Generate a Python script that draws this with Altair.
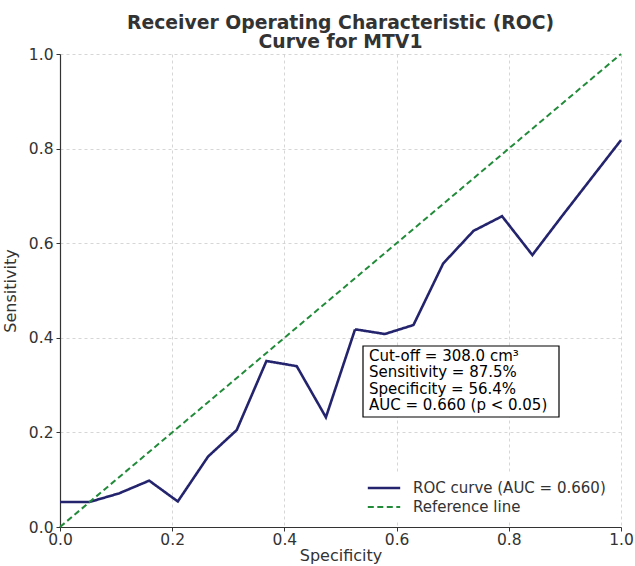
import altair as alt
import pandas as pd

# ROC curve values
roc_spec = [0.0, 0.053, 0.105, 0.159, 0.21, 0.264, 0.315, 0.368, 0.422, 0.474,
            0.526, 0.579, 0.630, 0.683, 0.737, 0.788, 0.842, 0.894, 1.0]
roc_sens = [0.053, 0.053, 0.071, 0.098, 0.054, 0.149, 0.205, 0.351, 0.340, 0.232,
            0.418, 0.408, 0.427, 0.557, 0.626, 0.657, 0.575, 0.656, 0.818]
ref_spec = [0.0, 1.0]
ref_sens = [0.0, 1.0]

roc_label = "ROC curve (AUC = 0.660)"
ref_label = "Reference line"
ticks = [0.0, 0.2, 0.4, 0.6, 0.8, 1.0]
annot_lines = ["Cut-off = 308.0 cm³", "Sensitivity = 87.5%",
               "Specificity = 56.4%", "AUC = 0.660 (p < 0.05)"]

df = pd.concat([
    pd.DataFrame({"spec": roc_spec, "sens": roc_sens, "series": roc_label,
                  "order": range(len(roc_spec))}),
    pd.DataFrame({"spec": ref_spec, "sens": ref_sens, "series": ref_label,
                  "order": range(len(ref_spec))}),
])

FONT = "DejaVu Sans"
TXT = "#333333"

x = alt.X("spec:Q", scale=alt.Scale(domain=[0, 1], nice=False),
          axis=alt.Axis(values=ticks, format=".1f", title="Specificity",
                        labelFlush=False, labelOverlap=False))
y = alt.Y("sens:Q", scale=alt.Scale(domain=[0, 1], nice=False),
          axis=alt.Axis(values=ticks, format=".1f", title="Sensitivity",
                        labelOverlap=False))

lines = alt.Chart(df).mark_line().encode(
    x=x, y=y, order="order:Q",
    color=alt.Color("series:N", scale=alt.Scale(domain=[roc_label, ref_label],
                                                range=["#24246e", "#228b3a"]),
                    legend=alt.Legend(title=None, orient="none", legendX=300, legendY=420,
                                      symbolType="stroke", symbolSize=1050,
                                      symbolStrokeWidth=2.2, labelFontSize=15,
                                      labelFont=FONT, labelColor=TXT, rowPadding=3,
                                      clipHeight=16, labelLimit=400,
                                      fillColor="white", padding=6, labelOffset=11)),
    strokeDash=alt.StrokeDash("series:N",
                              scale=alt.Scale(domain=[roc_label, ref_label],
                                              range=[[1, 0], [6, 3.5]]),
                              legend=alt.Legend(title=None)),
    strokeWidth=alt.StrokeWidth("series:N",
                                scale=alt.Scale(domain=[roc_label, ref_label],
                                                range=[2.6, 2.0]),
                                legend=None),
)

box = alt.Chart(pd.DataFrame({"a": [0]})).mark_rect(
    fill="white", stroke="black", strokeWidth=1.2
).encode(x=alt.value(303), x2=alt.value(499), y=alt.value(292), y2=alt.value(363))

annot = alt.Chart(pd.DataFrame({"a": [0]})).mark_text(
    align="left", baseline="top", fontSize=15, font=FONT, color="black", lineHeight=16.3
).encode(x=alt.value(309), y=alt.value(295), text=alt.value(annot_lines))

chart = alt.layer(lines, box, annot).properties(
    width=561, height=473,
    title=alt.Title(["Receiver Operating Characteristic (ROC)", "Curve for MTV1"],
                    fontSize=18.8, fontWeight="bold", font=FONT, color=TXT,
                    anchor="middle", offset=-5, lineHeight=19.5),
    autosize="none",
    padding={"left": 60, "top": 54, "right": 14, "bottom": 39},
).configure_view(stroke=None).configure_axis(
    labelFont=FONT, labelFontSize=15.5, labelColor=TXT,
    titleFont=FONT, titleFontSize=16, titleFontWeight="normal", titleColor=TXT,
    domainColor=TXT, domainWidth=1.2, tickColor=TXT, tickSize=4,
    gridColor="#cccccc", gridDash=[3, 3], gridWidth=0.8,
).configure_axisX(labelPadding=1, titlePadding=0).configure_axisY(labelPadding=3, titlePadding=10)

chart.save("out.html", embed_options={"renderer": "svg", "actions": False})
